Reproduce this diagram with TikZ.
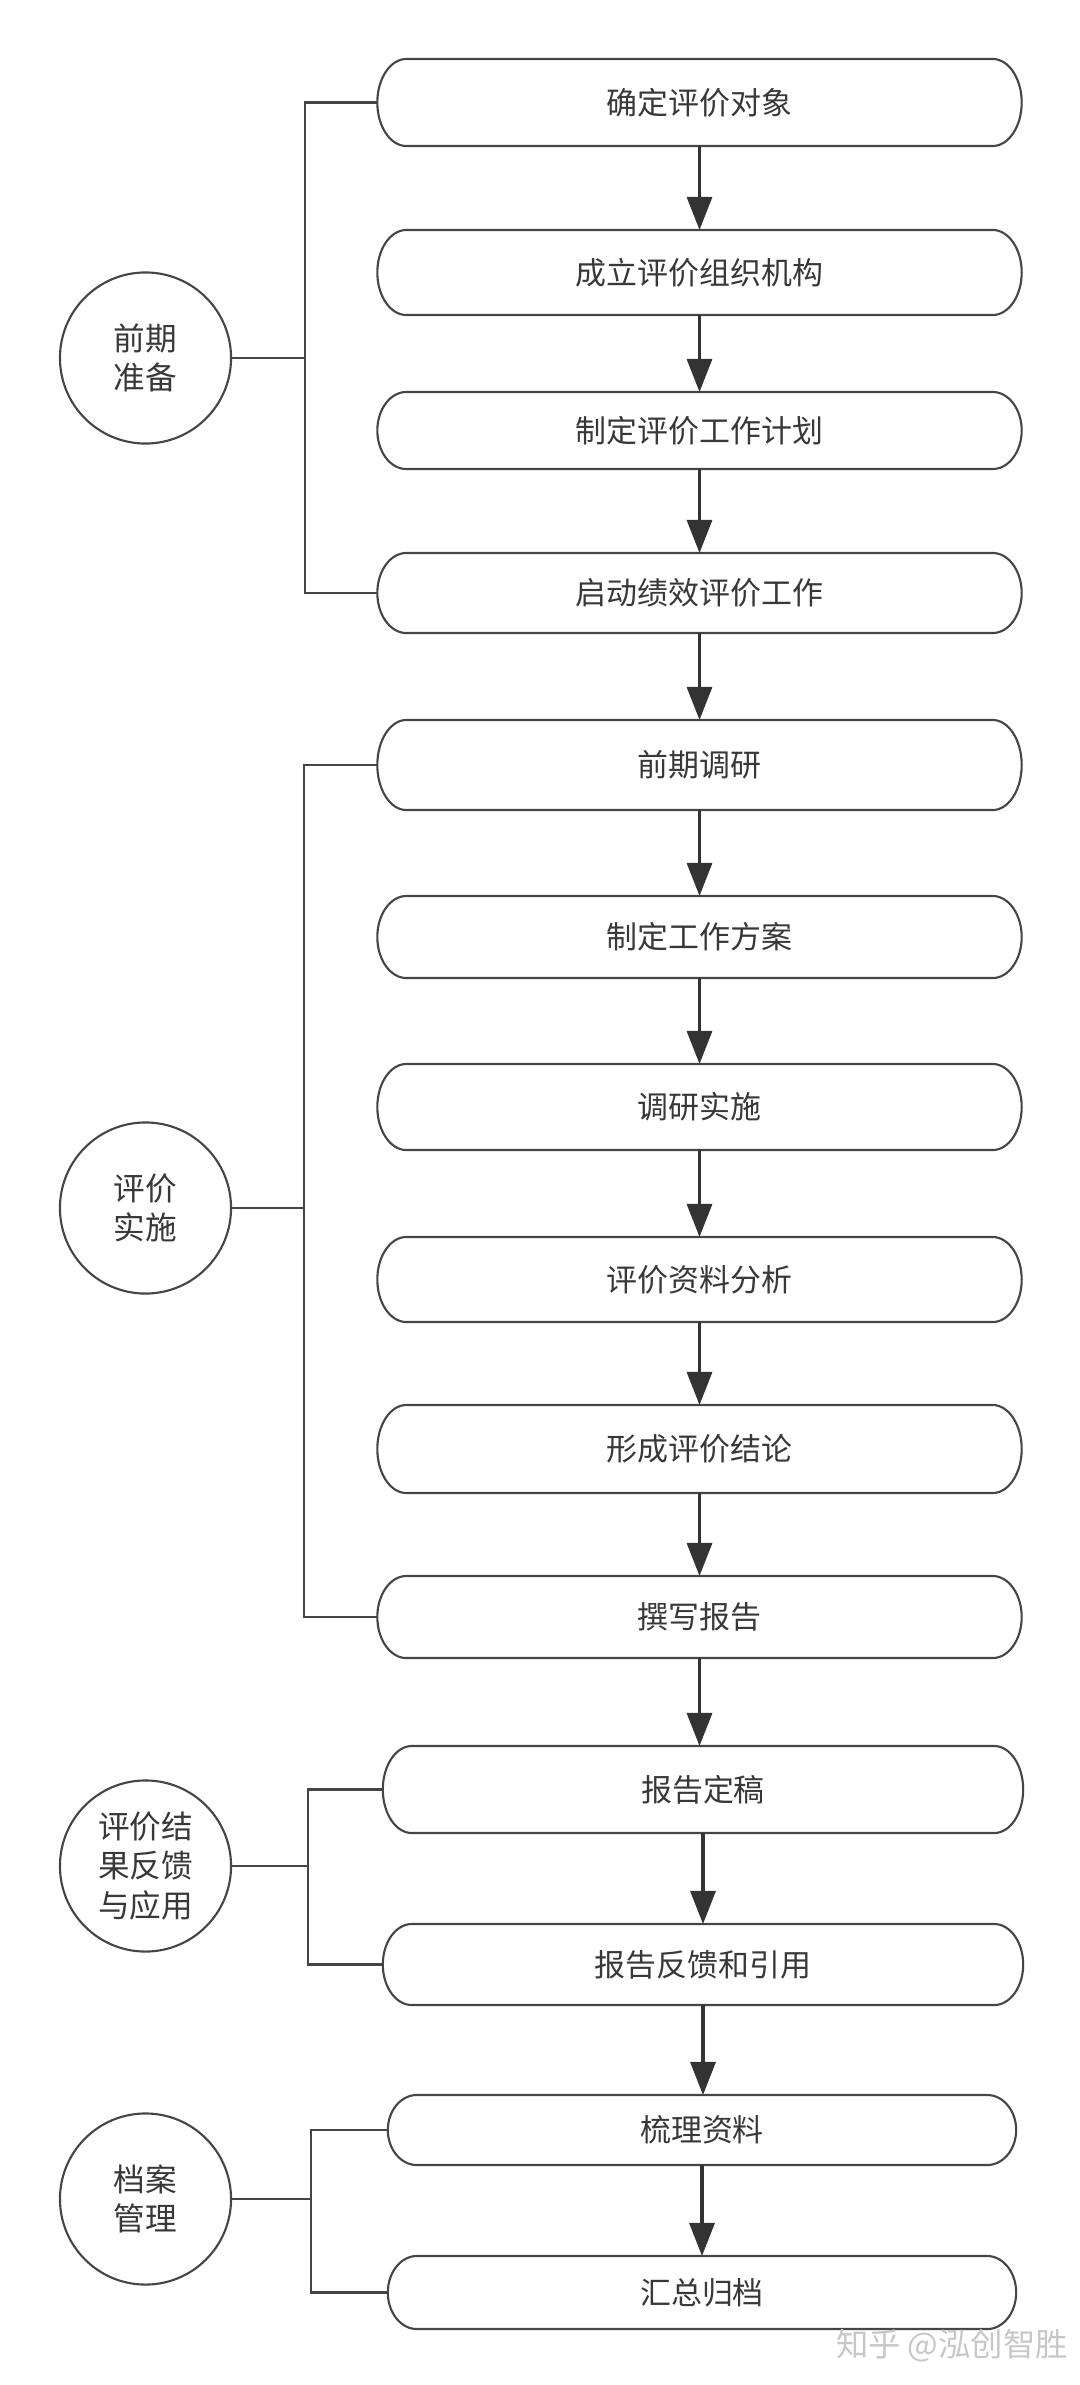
\documentclass[tikz,border=0pt]{standalone}
\usepackage{fontspec}
\usepackage{tikz}
\usetikzlibrary{arrows.meta}
\usetikzlibrary{calc}
\newfontfamily\cjk{Noto Sans CJK SC}
\definecolor{mgray}{rgb}{0.27, 0.27, 0.27}
\definecolor{dgray}{rgb}{0.2, 0.2, 0.2}
\definecolor{tgray}{rgb}{0.22, 0.22, 0.22}
\tikzset{task/.style = {outer sep = 0, minimum width = 6.44cm, text = tgray, font = \cjk\fontsize{8.8}{10}\selectfont}}
\tikzset{outline/.style = {draw = mgray, line width = 0.6pt}}
\tikzset{phase/.style = {draw = mgray, line width = 0.6pt, circle, minimum size = 1.71cm, inner sep = 0, align = center, text = tgray, font = \cjk\fontsize{9}{11.2}\selectfont}}
\tikzset{flow/.style = {draw = dgray, line width = 0.9pt, -{Triangle[width = 0.25cm, length = 0.33cm]}}}
\tikzset{link/.style = {draw = mgray, line width = 0.7pt}}

\begin{document}
\begin{tikzpicture}[x = 0.01cm, y = -0.01cm]
    \useasboundingbox (0, 0) rectangle (1080, 2385);

    \node [task, minimum height = 0.87cm] (b1) at (699.5, 102.5) {确定评价对象};
    \node [task, minimum height = 0.85cm] (b2) at (699.5, 272.5) {成立评价组织机构};
    \node [task, minimum height = 0.77cm] (b3) at (699.5, 430.5) {制定评价工作计划};
    \node [task, minimum height = 0.80cm] (b4) at (699.5, 593) {启动绩效评价工作};

    \node [task, minimum height = 0.90cm] (b5) at (699.5, 765) {前期调研};
    \node [task, minimum height = 0.82cm] (b6) at (699.5, 937) {制定工作方案};
    \node [task, minimum height = 0.86cm] (b7) at (699.5, 1107) {调研实施};
    \node [task, minimum height = 0.85cm] (b8) at (699.5, 1279.5) {评价资料分析};
    \node [task, minimum height = 0.88cm] (b9) at (699.5, 1449) {形成评价结论};
    \node [task, minimum height = 0.82cm] (b10) at (699.5, 1617) {撰写报告};

    \node [task, minimum height = 0.87cm, minimum width = 6.40cm] (b11) at (703, 1789.5) {报告定稿};
    \node [task, minimum height = 0.81cm, minimum width = 6.40cm] (b12) at (703, 1964.5) {报告反馈和引用};

    \node [task, minimum height = 0.70cm, minimum width = 6.28cm] (b13) at (702, 2130) {梳理资料};
    \node [task, minimum height = 0.73cm, minimum width = 6.28cm] (b14) at (702, 2292.5) {汇总归档};

    \foreach \i in {1,...,14} {
      \draw [outline] ([xshift = 0.29cm]b\i.north west) -- ([xshift = -0.29cm]b\i.north east)
        .. controls ([xshift = -0.13cm]b\i.north east) and ($(b\i.east)!0.55!(b\i.north east)$) .. (b\i.east)
        .. controls ($(b\i.east)!0.55!(b\i.south east)$) and ([xshift = -0.13cm]b\i.south east) .. ([xshift = -0.29cm]b\i.south east)
        -- ([xshift = 0.29cm]b\i.south west)
        .. controls ([xshift = 0.13cm]b\i.south west) and ($(b\i.west)!0.55!(b\i.south west)$) .. (b\i.west)
        .. controls ($(b\i.west)!0.55!(b\i.north west)$) and ([xshift = 0.13cm]b\i.north west) .. cycle;
    }

    \draw [flow] (b1) -- (b2);
    \draw [flow] (b2) -- (b3);
    \draw [flow] (b3) -- (b4);
    \draw [flow] (b4) -- (b5);
    \draw [flow] (b5) -- (b6);
    \draw [flow] (b6) -- (b7);
    \draw [flow] (b7) -- (b8);
    \draw [flow] (b8) -- (b9);
    \draw [flow] (b9) -- (b10);
    \draw [flow] (b10.south) -- (b10.south |- b11.north);
    \draw [flow] (b11) -- (b12);
    \draw [flow] (b12.south) -- (b12.south |- b13.north);
    \draw [flow] (b13) -- (b14);

    \node [phase] (p1) at (145.5, 358) {前期\\准备};
    \node [phase] (p2) at (145.5, 1208) {评价\\实施};
    \node [phase] (p3) at (145.5, 1866) {评价结\\果反馈\\与应用};
    \node [phase] (p4) at (145.5, 2199) {档案\\管理};

    \coordinate (k1) at (305, 358);
    \coordinate (k2) at (304, 1208);
    \coordinate (k3) at (308, 1866);
    \coordinate (k4) at (311, 2199);

    \draw [link] (p1) -- (k1);
    \draw [link] (b1.west) -| (k1) |- (b4.west);
    \draw [link] (p2) -- (k2);
    \draw [link] (b5.west) -| (k2) |- (b10.west);
    \draw [link] (p3) -- (k3);
    \draw [link] (b11.west) -| (k3) |- (b12.west);
    \draw [link] (p4) -- (k4);
    \draw [link] (b13.west) -| (k4) |- (b14.west);

    \node [text = black!22, font = \cjk\fontsize{9.2}{11}\selectfont] (zh) at (952, 2346) {知乎 @泓创智胜};
  \end{tikzpicture}
\end{document}
